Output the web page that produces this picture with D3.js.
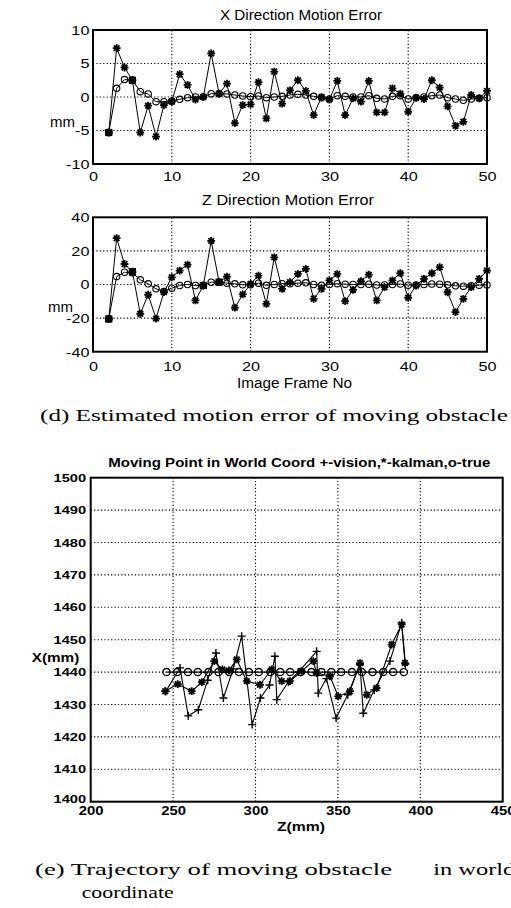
<!DOCTYPE html>
<html><head><meta charset="utf-8">
<script src="https://cdn.jsdelivr.net/npm/d3@7/dist/d3.min.js"></script>
<style>body{margin:0;background:#fff}svg{display:block}</style>
</head><body>
<script>
// ---------- DATA ----------
const frames = [2,3,4,5,6,7,8,9,10,11,12,13,14,15,16,17,18,19,20,21,22,23,24,25,26,27,28,29,30,31,32,33,34,35,36,37,38,39,40,41,42,43,44,45,46,47,48,49,50];
const xErrKalman = [-5.3,7.3,4.4,2.5,-5.3,-1.3,-5.9,-1.2,-0.7,3.4,
  1.8,-0.4,0,6.5,0.5,2.0,-3.9,-1.2,-1.1,2.2,
  -3.2,3.8,-1.0,1.0,2.5,0.9,-2.7,0,-0.4,2.4,
  -2.7,-0.2,-0.7,2.4,-2.3,-2.3,1.3,0.5,-2.2,-0.1,
  -0.3,2.5,1.4,-1.4,-4.3,-3.7,0.3,-0.2,0.9];
const xErrTrue = [-5.3,1.3,2.6,2.5,0.8,0.45,-0.7,-0.7,-0.6,-0.35,
  -0.1,0,0.05,0.5,0.5,0.45,0.3,0.15,0.05,0.15,
  -0.1,0,0.1,0.3,0.4,0.3,0.1,-0.1,-0.3,0.2,
  0.1,0,0,0.2,-0.2,-0.3,0.1,0.2,-0.3,-0.1,
  0,0.2,0.3,-0.1,-0.3,-0.5,-0.3,-0.2,-0.1];
const xOverlapFrames = [2,5];
const zErrKalman = [-20.5,27.6,12.2,7.6,-17.4,-6.1,-20.3,-4.5,4.3,8.3,
  11.8,-9.5,-0.6,26,1.4,4.7,-13.8,-5.9,0.4,5.3,
  -11.5,16.2,-2.6,1.4,6.3,9.3,-8.5,-2.6,2.4,6.3,
  -9.9,-3.2,2.0,5.9,-9.5,-1.6,2.4,6.7,-7.9,-0.6,
  3.4,6.7,10.3,-4.6,-16.4,-8.5,-1.6,3.4,8.3];
const zErrTrue = [-20.5,4.7,7.3,7.0,2.8,0.4,-2.6,-4.1,-2.2,-0.6,
  0,-0.6,-0.6,1.4,1.4,0.8,0.4,-0.2,-0.2,0.8,
  -0.5,0,0.5,0.5,0.8,1.0,0,-0.5,0,0.5,
  0.2,0,0,0.2,-0.3,-0.3,0,0.3,-0.4,-0.3,
  0,0.3,0.2,-0.2,-0.8,-1.0,-0.8,-0.4,-0.3];
const zOverlapFrames = [2,5,14,16];
const frameTicks = [0,10,20,30,40,50];
const xErrTicks = [-10,-5,0,5,10];
const zErrTicks = [-40,-20,0,20,40];

const trueZ = [246,252.5,259,265,271.5,277.5,284,290,296,302,309,315,321,327.5,334,340,346,352,358.5,364.5,371,377.5,383.5,390];
const trueX = [1440,1440,1440,1440,1440,1440,1440,1440,1440,1440,1440,1440,1440,1440,1440,1440,1440,1440,1440,1440,1440,1440,1440,1440];
const kalmanZ = [245.2,252.8,261.3,267.4,275,279.9,283.9,288.6,294.7,302.7,309.8,315.9,320.9,328,335.1,337.1,345.2,350.2,357.3,363.4,367.5,373.5,382.6,388.7,390.7];
const kalmanX = [1434.1,1436.3,1434.1,1436.9,1443.4,1440.8,1440.5,1443.9,1437.2,1436.1,1440.8,1437.2,1437.2,1440.3,1443.4,1439.7,1438.7,1432.5,1434.1,1442.8,1433,1435.1,1448.5,1454.7,1442.8];
const visionZ = [245.5,254.2,259.2,265.3,271,276,280.5,286.5,291.6,298,303,308.5,311.8,312.9,320,326,337.1,338.1,343,348.9,356,363.4,365.4,372,381.6,388.7,391];
const visionX = [1434,1441.3,1426.5,1428.4,1437.5,1445.9,1432,1441,1451.1,1423.8,1432,1436,1444.9,1431.5,1437,1440,1446.4,1433.5,1438,1425.8,1433,1442.3,1427.3,1434.5,1443.4,1455.2,1442.5];
const worldZTicks = [200,250,300,350,400,450];
const worldXTicks = [1400,1410,1420,1430,1440,1450,1460,1470,1480,1490,1500];

// ---------- DRAW ----------
const W = 511, H = 908;
const svg = d3.select("body").append("svg").attr("width", W).attr("height", H)
  .style("font-family", "'Liberation Sans', Arial, sans-serif");
svg.append("rect").attr("width", W).attr("height", H).attr("fill", "#fff");

const plain = d => String(d);
const starPath = r => { const a = r * 0.72; return `M${-r},0L${r},0M0,${-r}L0,${r}M${-a},${-a}L${a},${a}M${-a},${a}L${a},${-a}`; };
const plusPath = r => `M${-r},0L${r},0M0,${-r}L0,${r}`;
const GRID_DASH = "1.2,2.2";

function gridAndFrame(g, x, y, xt, yt) {
  const [x0, x1] = x.range(), [y0, y1] = y.range();
  g.selectAll(null).data(xt.filter(v => x(v) > x0 + 1 && x(v) < x1 - 1)).join("line")
    .attr("x1", d => x(d)).attr("x2", d => x(d)).attr("y1", y0).attr("y2", y1)
    .attr("stroke", "#000").attr("stroke-width", 1.1).attr("stroke-dasharray", GRID_DASH);
  g.selectAll(null).data(yt.filter(v => y(v) < y0 - 1 && y(v) > y1 + 1)).join("line")
    .attr("y1", d => y(d)).attr("y2", d => y(d)).attr("x1", x0).attr("x2", x1)
    .attr("stroke", "#000").attr("stroke-width", 1.1).attr("stroke-dasharray", GRID_DASH);
}
function frame(g, x, y) {
  const [x0, x1] = x.range(), [y0, y1] = y.range();
  g.append("rect").attr("x", x0).attr("y", y1).attr("width", x1 - x0).attr("height", y0 - y1)
    .attr("fill", "none").attr("stroke", "#000").attr("stroke-width", 2);
}

const xF = d3.scaleLinear().domain([0, 50]).range([93, 487]);

function errorPanel(y, kal, tru, overlap, yTicks, xPad) {
  const g = svg.append("g");
  gridAndFrame(g, xF, y, frameTicks, yTicks);
  const line = d3.line().x((d, i) => xF(frames[i])).y(d => y(d));
  g.append("path").attr("d", line(tru)).attr("fill", "none").attr("stroke", "#000").attr("stroke-width", 1);
  g.append("path").attr("d", line(kal)).attr("fill", "none").attr("stroke", "#000").attr("stroke-width", 1);
  g.selectAll(null).data(tru).join("circle")
    .attr("cx", (d, i) => xF(frames[i])).attr("cy", d => y(d)).attr("r", 3.2)
    .attr("fill", "none").attr("stroke", "#000").attr("stroke-width", 1.1);
  g.selectAll(null).data(kal).join("path")
    .attr("transform", (d, i) => `translate(${xF(frames[i])},${y(d)})`)
    .attr("d", starPath(3.9)).attr("stroke", "#000").attr("stroke-width", 1.8);
  g.selectAll(null).data(overlap).join("rect")
    .attr("x", d => xF(d) - 3.6).attr("y", d => y(kal[frames.indexOf(d)]) - 3.6)
    .attr("width", 7.2).attr("height", 7.2).attr("fill", "#000");
  frame(g, xF, y);
  const ay = g.append("g").attr("transform", `translate(${xF.range()[0]},0)`)
    .call(d3.axisLeft(y).tickValues(yTicks).tickSize(0).tickPadding(3).tickFormat(plain));
  const ax = g.append("g").attr("transform", `translate(0,${y.range()[0]})`)
    .call(d3.axisBottom(xF).tickValues(frameTicks).tickSize(0).tickPadding(xPad).tickFormat(plain));
  [ay, ax].forEach(a => {
    a.select(".domain").remove();
    a.selectAll("text").attr("fill", "#000").style("font-size", "13.5px")
      .style("font-family", "'Liberation Sans', Arial, sans-serif")
      .attr("transform", "scale(1.2,1)");
  });
  return g;
}

const yX = d3.scaleLinear().domain([-10, 10]).range([164, 30]);
const yZ = d3.scaleLinear().domain([-40, 40]).range([351.7, 217.3]);
errorPanel(yX, xErrKalman, xErrTrue, xOverlapFrames, xErrTicks, 7);
errorPanel(yZ, zErrKalman, zErrTrue, zOverlapFrames, zErrTicks, 10);

function txt(s, x, y, size, len, opts = {}) {
  const t = svg.append("text").attr("x", x).attr("y", y).text(s)
    .attr("fill", "#000").style("font-size", size + "px");
  if (len) t.attr("textLength", len).attr("lengthAdjust", "spacingAndGlyphs");
  if (opts.family) t.style("font-family", opts.family);
  if (opts.weight) t.style("font-weight", opts.weight);
  return t;
}
txt("X Direction Motion Error", 220, 20, 14, 162);
txt("Z Direction Motion Error", 202, 205, 14, 172);
txt("mm", 50, 127, 14, 25);
txt("mm", 48, 312, 14, 25);
txt("Image Frame No", 237, 388, 14, 115);
const SERIF = "'Liberation Serif', 'Times New Roman', serif";
txt("(d) Estimated motion error of moving obstacle", 40, 421, 16.5, 468, { family: SERIF });

// ---------- bottom panel ----------
const xW = d3.scaleLinear().domain([200, 450]).range([90.7, 502.7]);
const yW = d3.scaleLinear().domain([1400, 1500]).range([801.7, 477.7]);
const gb = svg.append("g");
gridAndFrame(gb, xW, yW, worldZTicks, worldXTicks);
const ln = (zs, xs) => d3.line()(zs.map((z, i) => [xW(z), yW(xs[i])]));
[[trueZ, trueX], [visionZ, visionX], [kalmanZ, kalmanX]].forEach(([zs, xs]) =>
  gb.append("path").attr("d", ln(zs, xs)).attr("fill", "none").attr("stroke", "#000").attr("stroke-width", 1.1));
gb.selectAll(null).data(trueZ).join("circle")
  .attr("cx", d => xW(d)).attr("cy", (d, i) => yW(trueX[i])).attr("r", 3.6)
  .attr("fill", "none").attr("stroke", "#000").attr("stroke-width", 1.3);
gb.selectAll(null).data(visionZ).join("path")
  .attr("transform", (d, i) => `translate(${xW(d)},${yW(visionX[i])})`)
  .attr("d", plusPath(4)).attr("stroke", "#000").attr("stroke-width", 1.4);
gb.selectAll(null).data(kalmanZ).join("path")
  .attr("transform", (d, i) => `translate(${xW(d)},${yW(kalmanX[i])})`)
  .attr("d", starPath(3.9)).attr("stroke", "#000").attr("stroke-width", 1.8);
frame(gb, xW, yW);
const byA = gb.append("g").attr("transform", `translate(${xW.range()[0]},0)`)
  .call(d3.axisLeft(yW).tickValues(worldXTicks).tickSize(0).tickPadding(3.5).tickFormat(plain));
const bxA = gb.append("g").attr("transform", `translate(0,${yW.range()[0]})`)
  .call(d3.axisBottom(xW).tickValues(worldZTicks).tickSize(0).tickPadding(4).tickFormat(plain));
byA.select(".domain").remove(); bxA.select(".domain").remove();
byA.selectAll("text").attr("fill", "#000").style("font-size", "11px").style("font-weight", "bold")
  .style("font-family", "'Liberation Sans', Arial, sans-serif").attr("transform", "scale(1.33,1)");
byA.selectAll(".tick").filter(d => d === 1400).select("text").attr("dy", "0.05em");
bxA.selectAll("text").attr("fill", "#000").style("font-size", "13.5px").style("font-weight", "bold")
  .style("font-family", "'Liberation Sans', Arial, sans-serif").attr("transform", "scale(1.1,1)");

txt("Moving Point in World Coord +-vision,*-kalman,o-true", 108.3, 467, 12.5, 382, { weight: "bold" });
txt("X(mm)", 31.7, 662, 12.5, 47.6, { weight: "bold" });
txt("Z(mm)", 277, 831, 12.5, 48, { weight: "bold" });
txt("(e) Trajectory of moving obstacle", 35, 875, 16.5, 357, { family: SERIF });
txt("in world", 433.3, 875, 16.5, 82, { family: SERIF });
txt("coordinate", 81.7, 898, 16.5, 92, { family: SERIF });
</script>
</body></html>
